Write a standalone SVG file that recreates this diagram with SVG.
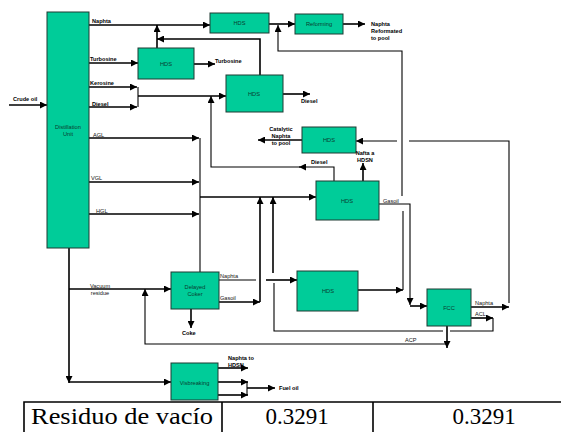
<svg xmlns="http://www.w3.org/2000/svg" width="561" height="432" viewBox="0 0 561 432">
<defs>
<marker id="a" markerUnits="userSpaceOnUse" viewBox="0 0 10 10" refX="10" refY="5" markerWidth="7" markerHeight="7" orient="auto"><path d="M0,0 L10,5 L0,10 z" fill="#000"/></marker>
</defs>
<style>
.box{fill:#00cc99;stroke:#1e3a32;stroke-width:1}
.bt{font-family:"Liberation Sans",Arial,sans-serif;font-size:5.7px;fill:#0a3d30;text-anchor:middle}
.lb{font-family:"Liberation Sans",Arial,sans-serif;font-size:5.6px;font-weight:bold;fill:#000}
.lr{font-family:"Liberation Sans",Arial,sans-serif;font-size:5.6px;fill:#111}
.c{fill:none;stroke:#000;stroke-width:1.6}
.t{fill:none;stroke:#000;stroke-width:1.1}
.ar{marker-end:url(#a)}
.tb{fill:none;stroke:#000;stroke-width:1.6}
.tt{font-family:"Liberation Serif","Times New Roman",serif;font-size:23px;fill:#000;text-anchor:middle}
</style>
<g id="connectors">
<path class="c ar" d="M9,105 H47"/>
<path class="c ar" d="M89,25 H210"/>
<path class="c ar" d="M157,48 V25"/>
<path class="c ar" d="M260,75 V39 H157"/>
<path class="c ar" d="M269,24 H295"/>
<path class="c ar" d="M343,24 H365"/>
<path class="t ar" d="M402,196 V51 H278 V25"/>
<path class="t" d="M403,211 V290"/>
<path class="c ar" d="M89,63 H138"/>
<path class="c ar" d="M194,64 H215"/>
<path class="c ar" d="M89,87 H137"/>
<path class="c ar" d="M89,107 H137"/>
<path class="t" d="M138,87 V107"/>
<path class="c ar" d="M138,96 H226"/>
<path class="c ar" d="M283,94 H310"/>
<path class="t ar" d="M334,181 V167 H299"/>
<path class="t ar" d="M300,167 H211 V96"/>
<path class="c ar" d="M302,140 H258"/>
<path class="t" d="M509,303 V141 H409"/>
<path class="t ar" d="M397,141 H356"/>
<path class="c ar" d="M363,181 V163"/>
<path class="c ar" d="M89,138 H199"/>
<path class="c ar" d="M89,182 H199"/>
<path class="c ar" d="M89,214 H199"/>
<path class="t" d="M200,138 V272"/>
<path class="c ar" d="M200,197 H316"/>
<path class="c ar" d="M219,302 H260"/>
<path class="c ar" d="M260,302 V197"/>
<path class="c ar" d="M273,273 V197"/>
<path class="t" d="M219,280 H256"/>
<path class="c ar" d="M266,280 H297"/>
<path class="c ar" d="M358,290 H403"/>
<path class="t ar" d="M379,204 H410 V305"/>
<path class="c ar" d="M410,306 H427"/>
<path class="c ar" d="M471,307 H509"/>
<path class="c ar" d="M471,318 H493"/>
<path class="t" d="M493,318 V331 H450"/>
<path class="t" d="M443,331 H274 V283"/>
<path class="c ar" d="M447,326 V348"/>
<path class="t ar" d="M447,344 H145 V289"/>
<path class="c ar" d="M69,248 V383"/>
<path class="c ar" d="M69,382 H171"/>
<path class="c ar" d="M69,289 H171"/>
<path class="c ar" d="M191,309 V328"/>
<path class="c ar" d="M218,368 H248"/>
<path class="c ar" d="M218,382 H248"/>
<path class="c ar" d="M218,395 H248"/>
<path class="t" d="M247,382 V395"/>
<path class="c ar" d="M247,388 H275"/>
</g>
<g id="distillation"><rect class="box" x="47" y="12" width="42" height="236"/><text class="bt" x="68" y="129">Distillation</text><text class="bt" x="68" y="136">Unit</text></g>
<g id="hds1"><rect class="box" x="210" y="13" width="59" height="20"/><text class="bt" x="239.5" y="25">HDS</text></g>
<g id="reforming"><rect class="box" x="295" y="14" width="48" height="20"/><text class="bt" x="319" y="26">Reforming</text></g>
<g id="hds2"><rect class="box" x="138" y="48" width="56" height="31"/><text class="bt" x="166" y="66">HDS</text></g>
<g id="hds3"><rect class="box" x="226" y="75" width="57" height="37"/><text class="bt" x="254" y="96">HDS</text></g>
<g id="hds5"><rect class="box" x="302" y="127" width="54" height="26"/><text class="bt" x="329" y="142">HDS</text></g>
<g id="hds4"><rect class="box" x="316" y="181" width="63" height="39"/><text class="bt" x="347" y="203">HDS</text></g>
<g id="coker"><rect class="box" x="171" y="272" width="48" height="37"/><text class="bt" x="195" y="289">Delayed</text><text class="bt" x="195" y="296">Coker</text></g>
<g id="hds6"><rect class="box" x="297" y="271" width="61" height="40"/><text class="bt" x="328" y="293">HDS</text></g>
<g id="fcc"><rect class="box" x="427" y="289" width="44" height="37"/><text class="bt" x="449" y="310">FCC</text></g>
<g id="visbreaking"><rect class="box" x="171" y="363" width="47" height="37"/><text class="bt" x="194.5" y="385">Visbreaking</text></g>
<g id="labels">
<text class="lb" x="13" y="101">Crude oil</text>
<text class="lb" x="92" y="23">Naphta</text>
<text class="lb" x="90" y="61">Turbosine</text>
<text class="lb" x="90" y="85">Kerosine</text>
<text class="lb" x="92" y="106">Diesel</text>
<text class="lr" x="93" y="137">AGL</text>
<text class="lr" x="91" y="180">VGL</text>
<text class="lr" x="96" y="213">HGL</text>
<text class="lb" x="215" y="63">Turbosine</text>
<text class="lb" x="371" y="26">Naphta</text>
<text class="lb" x="371" y="33">Reformated</text>
<text class="lb" x="371" y="40">to pool</text>
<text class="lb" x="301" y="103">Diesel</text>
<text class="lb" x="281" y="131" text-anchor="middle">Catalytic</text>
<text class="lb" x="281" y="138" text-anchor="middle">Naphta</text>
<text class="lb" x="281" y="145" text-anchor="middle">to pool</text>
<text class="lb" x="311" y="164">Diesel</text>
<text class="lb" x="365" y="155" text-anchor="middle">Nafta a</text>
<text class="lb" x="365" y="162" text-anchor="middle">HDSN</text>
<text class="lr" x="383" y="203">Gasoil</text>
<text class="lr" x="100" y="288" text-anchor="middle">Vacuum</text>
<text class="lr" x="100" y="295" text-anchor="middle">residue</text>
<text class="lr" x="220" y="278">Naphta</text>
<text class="lr" x="220" y="300">Gasoil</text>
<text class="lb" x="182" y="335">Coke</text>
<text class="lr" x="475" y="305">Naphta</text>
<text class="lr" x="475" y="316">ACL</text>
<text class="lr" x="405" y="342">ACP</text>
<text class="lb" x="228" y="360">Naphta to</text>
<text class="lb" x="228" y="367">HDSN</text>
<text class="lb" x="279" y="390">Fuel oil</text>
</g>
<g id="table">
<path class="tb" d="M24,432 V402 H561 M222,402 V432 M373,402 V432"/>
<text class="tt" x="122" y="424" textLength="182" lengthAdjust="spacingAndGlyphs">Residuo de vacío</text>
<text class="tt" x="297" y="424">0.3291</text>
<text class="tt" x="484" y="424">0.3291</text>
</g>
</svg>
